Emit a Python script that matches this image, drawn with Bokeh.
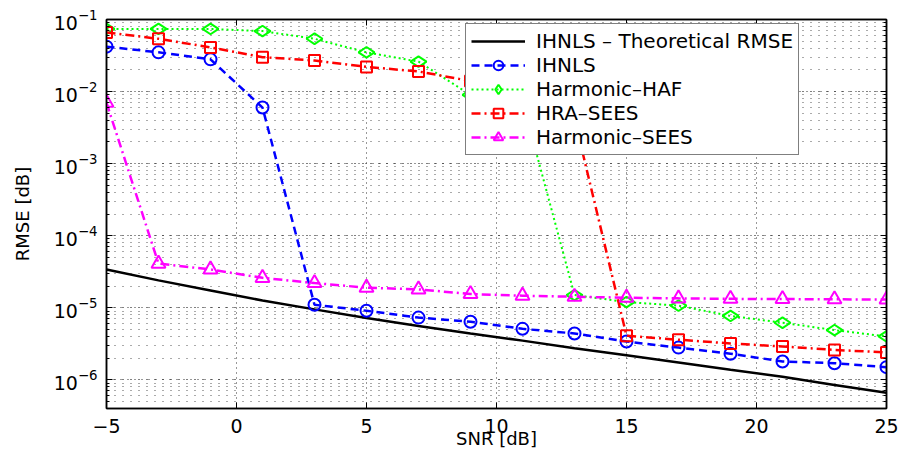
from bokeh.plotting import figure
from bokeh.models import FixedTicker, LogTicker, LogAxis, LinearAxis, Range1d, CustomJSTickFormatter
from bokeh.embed import file_html
from bokeh.resources import INLINE

snr = [-5, -3, -1, 1, 3, 5, 7, 9, 11, 13, 15, 17, 19, 21, 23, 25]
theory = [3.4e-5, 2.4e-5, 1.74e-5, 1.26e-5, 9.5e-6, 7.2e-6, 5.6e-6, 4.4e-6,
          3.5e-6, 2.75e-6, 2.2e-6, 1.74e-6, 1.38e-6, 1.1e-6, 8.5e-7, 6.6e-7]
ihnls = [4.2e-2, 3.5e-2, 2.8e-2, 6.0e-3, 1.1e-5, 9.1e-6, 7.3e-6, 6.4e-6,
         5.1e-6, 4.4e-6, 3.4e-6, 2.8e-6, 2.3e-6, 1.8e-6, 1.7e-6, 1.5e-6]
haf = [7.4e-2, 7.4e-2, 7.4e-2, 6.9e-2, 5.4e-2, 3.5e-2, 2.6e-2, 9.0e-3,
       7.3e-3, 1.5e-5, 1.2e-5, 1.07e-5, 7.7e-6, 6.2e-6, 4.9e-6, 4.0e-6]
hra = [6.6e-2, 5.4e-2, 4.1e-2, 3.0e-2, 2.7e-2, 2.2e-2, 1.9e-2, 1.4e-2,
       1.0e-2, 4.2e-3, 4.1e-6, 3.6e-6, 3.2e-6, 2.9e-6, 2.6e-6, 2.4e-6]
hsees = [7.0e-3, 4.1e-5, 3.4e-5, 2.6e-5, 2.2e-5, 1.9e-5, 1.8e-5, 1.55e-5,
         1.47e-5, 1.42e-5, 1.38e-5, 1.35e-5, 1.33e-5, 1.32e-5, 1.31e-5, 1.3e-5]

x_ticks = [-5, 0, 5, 10, 15, 20, 25]
labels = ["IHNLS – Theoretical RMSE", "IHNLS", "Harmonic–HAF", "HRA–SEES", "Harmonic–SEES"]

FONT = "DejaVu Sans"

p = figure(width=905, height=454, y_axis_type="log",
           x_range=Range1d(-5, 25), y_range=Range1d(4e-7, 1e-1),
           output_backend="svg", toolbar_location=None,
           min_border_left=106, min_border_right=19, min_border_top=19, min_border_bottom=46)
p.background_fill_color = "white"
p.border_fill_color = "white"
p.outline_line_color = "black"
p.outline_line_width = 1.5

# grids
p.xgrid.ticker = FixedTicker(ticks=x_ticks)
p.xgrid.grid_line_color = "#333333"
p.xgrid.grid_line_dash = "1 4"
p.xgrid.grid_line_width = 1
p.ygrid.grid_line_color = "#333333"
p.ygrid.grid_line_dash = "1 6"
p.ygrid.minor_grid_line_color = "#555555"
p.ygrid.minor_grid_line_dash = "1 7"

# axes
xa = p.xaxis[0]
xa.ticker = FixedTicker(ticks=x_ticks)
xa.major_label_overrides = {-5: "−5"}
ya = p.yaxis[0]
ya.ticker = LogTicker(desired_num_ticks=6, num_minor_ticks=10)
for ax in (xa, ya):
    ax.major_tick_in = 6
    ax.major_tick_out = 0
    ax.minor_tick_in = 3
    ax.minor_tick_out = 0
    ax.axis_line_color = "black"
    ax.axis_line_width = 1.5
    ax.major_label_text_font = FONT
    ax.major_label_text_font_size = "19px"
    ax.major_label_text_color = "black"
    ax.axis_label_text_font = FONT
    ax.axis_label_text_font_size = "18px"
    ax.axis_label_text_font_style = "normal"
    ax.axis_label_text_color = "black"
xa.minor_tick_in = 0
xa.major_label_standoff = 10
xa.axis_label = "SNR [dB]"
xa.axis_label_standoff = -8
ya.major_label_standoff = 9
ya.axis_label = "RMSE [dB]"
ya.axis_label_standoff = 18

blank = CustomJSTickFormatter(code="return '';")
top = LinearAxis(ticker=FixedTicker(ticks=x_ticks), formatter=blank,
                 major_tick_in=6, major_tick_out=0, minor_tick_in=0, minor_tick_out=0,
                 major_label_standoff=0, axis_line_width=1.5)
p.add_layout(top, "above")
right = LogAxis(ticker=LogTicker(desired_num_ticks=6, num_minor_ticks=10), formatter=blank,
                major_tick_in=6, major_tick_out=0, minor_tick_in=3, minor_tick_out=0,
                major_label_standoff=0, axis_line_width=1.5)
p.add_layout(right, "right")

# series
p.line(snr, theory, line_color="black", line_width=2.5, legend_label=labels[0])

p.line(snr, ihnls, line_color="#0000ff", line_width=2.5, line_dash="8 5", legend_label=labels[1])
p.scatter(snr, ihnls, marker="circle", size=12, fill_color=None, line_color="#0000ff",
          line_width=2, legend_label=labels[1])

p.line(snr, haf, line_color="#00ff00", line_width=2, line_dash="2 3", legend_label=labels[2])
p.scatter(snr, haf, marker="diamond", angle=1.5708, size=16, fill_color=None,
          line_color="#00ff00", line_width=2, legend_label=labels[2])

p.line(snr, hra, line_color="#ff0000", line_width=2.5, line_dash="9 4 2 4", legend_label=labels[3])
p.scatter(snr, hra, marker="square", size=11, fill_color=None, line_color="#ff0000",
          line_width=2, legend_label=labels[3])

p.line(snr, hsees, line_color="#ff00ff", line_width=2.5, line_dash="9 4 2 4", legend_label=labels[4])
p.scatter(snr, hsees, marker="triangle", size=14, fill_color=None, line_color="#ff00ff",
          line_width=2, legend_label=labels[4])

lg = p.legend[0]
lg.location = (359, 253)
lg.margin = 0
lg.padding = 5
lg.spacing = 0
lg.glyph_width = 54
lg.glyph_height = 24
lg.label_height = 24
lg.label_standoff = 11
lg.label_text_font = FONT
lg.label_text_font_size = "20px"
lg.label_text_color = "black"
lg.border_line_color = "black"
lg.border_line_width = 1.5
lg.background_fill_alpha = 1.0

open("out.html", "w").write(file_html(p, INLINE))
